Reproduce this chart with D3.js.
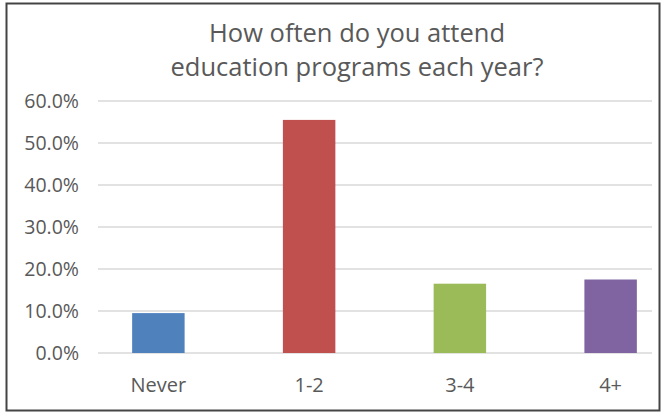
<!DOCTYPE html>
<html>
<head>
<meta charset="utf-8">
<script src="https://cdn.jsdelivr.net/npm/d3@7"></script>
<style>
  html, body { margin: 0; padding: 0; background: #fff; }
  svg { display: block; }
</style>
</head>
<body>
<svg id="chart" width="663" height="413"></svg>
<script>
// Survey responses: attendance at education programs per year
const categories = ["Never", "1-2", "3-4", "4+"];
const shares = [0.095, 0.555, 0.165, 0.175];
const barColors = ["#4f81bd", "#c0504d", "#9bbb59", "#8064a2"];
const tickValues = [0, 0.1, 0.2, 0.3, 0.4, 0.5, 0.6];
const titleLines = ["How often do you attend", "education programs each year?"];

const svg = d3.select("#chart");
const font = "'Open Sans', 'Noto Sans', sans-serif";
const textColor = "#595959";

// outer frame
svg.append("rect")
  .attr("x", 6.5).attr("y", 3.5)
  .attr("width", 653).attr("height", 407)
  .attr("fill", "#fff")
  .attr("stroke", "#444").attr("stroke-width", 2);

const y = d3.scaleLinear().domain([0, 0.6]).range([353, 101]);
const x = d3.scaleBand().domain(categories).range([83, 686]).paddingInner(0.652).paddingOuter(0.326);
const gridX0 = 98, gridX1 = 652;

// title
svg.append("g").selectAll("text").data(titleLines).join("text")
  .attr("x", 357).attr("y", (d, i) => 42 + i * 34)
  .attr("text-anchor", "middle")
  .attr("font-family", font).attr("font-size", 25.5)
  .attr("fill", textColor)
  .text(d => d);

// gridlines
svg.append("g").selectAll("line").data(tickValues).join("line")
  .attr("x1", gridX0).attr("x2", gridX1)
  .attr("y1", d => y(d)).attr("y2", d => y(d))
  .attr("stroke", "#d9d9d9").attr("stroke-width", 1.5);

// y axis labels
const yAxis = d3.axisLeft(y).tickValues(tickValues).tickFormat(d3.format(".1%")).tickSize(0).tickPadding(0);
const gy = svg.append("g").attr("transform", "translate(79,0)").call(yAxis);
gy.select(".domain").remove();
gy.selectAll("text")
  .attr("font-family", font).attr("font-size", 19.5)
  .attr("fill", textColor).attr("dy", "0.35em");

// bars
svg.append("g").selectAll("rect").data(categories).join("rect")
  .attr("x", d => x(d))
  .attr("width", x.bandwidth())
  .attr("y", (d, i) => y(shares[i]))
  .attr("height", (d, i) => y(0) - y(shares[i]))
  .attr("fill", (d, i) => barColors[i]);

// category axis labels
const xAxis = d3.axisBottom(x).tickSize(0).tickPadding(0);
const gx = svg.append("g").attr("transform", "translate(0,392)").call(xAxis);
gx.select(".domain").remove();
gx.selectAll("text")
  .attr("font-family", font).attr("font-size", 20)
  .attr("fill", textColor).attr("dy", 0);
</script>
</body>
</html>
